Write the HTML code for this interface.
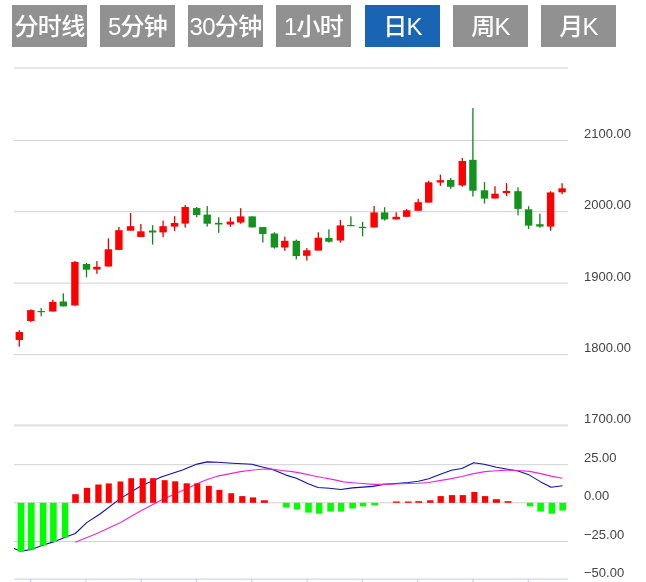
<!DOCTYPE html>
<html lang="zh"><head><meta charset="utf-8"><title>K线图</title>
<style>
html,body{margin:0;padding:0;background:#fff;}
body{width:646px;height:582px;position:relative;overflow:hidden;font-family:"Liberation Sans","Noto Sans CJK SC",sans-serif;}
.b{position:absolute;top:5px;width:75px;height:42px;line-height:44px;background:#919191;color:#fff;font-size:24px;font-weight:500;overflow:hidden;letter-spacing:-0.7px;text-align:center;white-space:nowrap;}
.b.on{background:#1a64b4;}
</style></head><body>
<div class="b" style="left:12px">分时线</div><div class="b" style="left:100px">5分钟</div><div class="b" style="left:188px">30分钟</div><div class="b" style="left:276px">1小时</div><div class="b on" style="left:365px">日K</div><div class="b" style="left:453px">周K</div><div class="b" style="left:541px">月K</div>
<svg width="646" height="582" viewBox="0 0 646 582" style="position:absolute;left:0;top:0">
<rect x="14" y="67.5" width="554" height="1" fill="#d2d2d2"/>
<rect x="14" y="140.0" width="554" height="1" fill="#d2d2d2"/>
<rect x="14" y="211.2" width="554" height="1" fill="#d2d2d2"/>
<rect x="14" y="282.6" width="554" height="1" fill="#d2d2d2"/>
<rect x="14" y="354.1" width="554" height="1" fill="#d2d2d2"/>
<rect x="14" y="424.3" width="554" height="2.2" fill="#e2e2e2"/>
<rect x="14" y="464.2" width="554" height="1" fill="#d2d2d2"/>
<rect x="14" y="502.3" width="554" height="1" fill="#d2d2d2"/>
<rect x="14" y="541.0" width="554" height="1" fill="#d2d2d2"/>
<rect x="14" y="578.6" width="554" height="1" fill="#c6cedc"/>
<rect x="30.0" y="579" width="1.2" height="3" fill="#c6cedc"/>
<rect x="85.3" y="579" width="1.2" height="3" fill="#c6cedc"/>
<rect x="140.6" y="579" width="1.2" height="3" fill="#c6cedc"/>
<rect x="195.9" y="579" width="1.2" height="3" fill="#c6cedc"/>
<rect x="251.2" y="579" width="1.2" height="3" fill="#c6cedc"/>
<rect x="306.5" y="579" width="1.2" height="3" fill="#c6cedc"/>
<rect x="361.8" y="579" width="1.2" height="3" fill="#c6cedc"/>
<rect x="417.1" y="579" width="1.2" height="3" fill="#c6cedc"/>
<rect x="472.4" y="579" width="1.2" height="3" fill="#c6cedc"/>
<rect x="527.7" y="579" width="1.2" height="3" fill="#c6cedc"/>
<rect x="18.65" y="330.1" width="1.3" height="16.5" fill="#e60000"/>
<rect x="15.60" y="332.0" width="7.4" height="8.0" fill="#ff0000"/>
<rect x="30.15" y="309.3" width="1.3" height="12.9" fill="#e60000"/>
<rect x="27.10" y="310.1" width="7.4" height="10.9" fill="#ff0000"/>
<rect x="40.55" y="308.1" width="1.3" height="8.1" fill="#12841a"/>
<rect x="37.50" y="311.0" width="7.4" height="1.2" fill="#14921e"/>
<rect x="52.15" y="299.7" width="1.3" height="11.8" fill="#e60000"/>
<rect x="49.10" y="301.9" width="7.4" height="9.6" fill="#ff0000"/>
<rect x="62.65" y="293.3" width="1.3" height="13.1" fill="#12841a"/>
<rect x="59.60" y="301.5" width="7.4" height="4.9" fill="#14921e"/>
<rect x="74.25" y="261.0" width="1.3" height="44.5" fill="#e60000"/>
<rect x="71.20" y="262.0" width="7.4" height="43.5" fill="#ff0000"/>
<rect x="85.85" y="262.9" width="1.3" height="14.5" fill="#12841a"/>
<rect x="82.80" y="264.0" width="7.4" height="5.7" fill="#14921e"/>
<rect x="96.25" y="261.1" width="1.3" height="12.7" fill="#e60000"/>
<rect x="93.20" y="266.8" width="7.4" height="2.7" fill="#ff0000"/>
<rect x="107.75" y="238.4" width="1.3" height="28.1" fill="#e60000"/>
<rect x="104.70" y="249.3" width="7.4" height="17.2" fill="#ff0000"/>
<rect x="118.25" y="227.0" width="1.3" height="22.9" fill="#e60000"/>
<rect x="115.20" y="230.2" width="7.4" height="19.7" fill="#ff0000"/>
<rect x="129.95" y="213.0" width="1.3" height="17.7" fill="#e60000"/>
<rect x="126.90" y="226.2" width="7.4" height="4.5" fill="#ff0000"/>
<rect x="140.25" y="224.0" width="1.3" height="13.0" fill="#e60000"/>
<rect x="137.20" y="231.3" width="7.4" height="5.7" fill="#ff0000"/>
<rect x="151.95" y="225.2" width="1.3" height="19.4" fill="#12841a"/>
<rect x="148.90" y="230.5" width="7.4" height="2.0" fill="#14921e"/>
<rect x="162.45" y="220.5" width="1.3" height="16.6" fill="#e60000"/>
<rect x="159.40" y="226.2" width="7.4" height="6.2" fill="#ff0000"/>
<rect x="173.95" y="216.1" width="1.3" height="15.0" fill="#e60000"/>
<rect x="170.90" y="223.0" width="7.4" height="3.6" fill="#ff0000"/>
<rect x="184.55" y="205.0" width="1.3" height="22.6" fill="#e60000"/>
<rect x="181.50" y="207.0" width="7.4" height="16.6" fill="#ff0000"/>
<rect x="196.05" y="207.0" width="1.3" height="10.3" fill="#12841a"/>
<rect x="193.00" y="208.1" width="7.4" height="6.9" fill="#14921e"/>
<rect x="206.55" y="206.1" width="1.3" height="20.5" fill="#12841a"/>
<rect x="203.50" y="214.6" width="7.4" height="9.1" fill="#14921e"/>
<rect x="218.05" y="217.3" width="1.3" height="15.5" fill="#12841a"/>
<rect x="215.00" y="222.8" width="7.4" height="1.7" fill="#14921e"/>
<rect x="229.75" y="217.3" width="1.3" height="9.5" fill="#e60000"/>
<rect x="226.70" y="221.6" width="7.4" height="2.9" fill="#ff0000"/>
<rect x="240.05" y="208.2" width="1.3" height="15.5" fill="#e60000"/>
<rect x="237.00" y="216.4" width="7.4" height="6.1" fill="#ff0000"/>
<rect x="251.55" y="216.4" width="1.3" height="11.0" fill="#12841a"/>
<rect x="248.50" y="216.4" width="7.4" height="11.0" fill="#14921e"/>
<rect x="262.15" y="227.1" width="1.3" height="15.5" fill="#12841a"/>
<rect x="259.10" y="227.1" width="7.4" height="6.9" fill="#14921e"/>
<rect x="273.75" y="232.3" width="1.3" height="16.3" fill="#12841a"/>
<rect x="270.70" y="233.5" width="7.4" height="14.0" fill="#14921e"/>
<rect x="284.15" y="236.5" width="1.3" height="14.3" fill="#e60000"/>
<rect x="281.10" y="240.8" width="7.4" height="6.7" fill="#ff0000"/>
<rect x="295.65" y="239.6" width="1.3" height="19.8" fill="#12841a"/>
<rect x="292.60" y="240.8" width="7.4" height="15.2" fill="#14921e"/>
<rect x="306.15" y="248.1" width="1.3" height="12.5" fill="#e60000"/>
<rect x="303.10" y="250.3" width="7.4" height="5.5" fill="#ff0000"/>
<rect x="317.65" y="232.3" width="1.3" height="18.3" fill="#e60000"/>
<rect x="314.60" y="237.7" width="7.4" height="12.9" fill="#ff0000"/>
<rect x="328.25" y="229.3" width="1.3" height="13.3" fill="#12841a"/>
<rect x="325.20" y="237.9" width="7.4" height="3.8" fill="#14921e"/>
<rect x="339.75" y="219.9" width="1.3" height="22.7" fill="#e60000"/>
<rect x="336.70" y="225.4" width="7.4" height="15.1" fill="#ff0000"/>
<rect x="350.25" y="216.4" width="1.3" height="9.8" fill="#12841a"/>
<rect x="347.20" y="225.0" width="7.4" height="1.2" fill="#14921e"/>
<rect x="361.95" y="221.8" width="1.3" height="14.5" fill="#12841a"/>
<rect x="358.90" y="226.8" width="7.4" height="1.3" fill="#14921e"/>
<rect x="373.45" y="206.0" width="1.3" height="21.5" fill="#e60000"/>
<rect x="370.40" y="212.4" width="7.4" height="15.1" fill="#ff0000"/>
<rect x="383.95" y="207.2" width="1.3" height="13.4" fill="#12841a"/>
<rect x="380.90" y="212.4" width="7.4" height="7.0" fill="#14921e"/>
<rect x="395.55" y="212.4" width="1.3" height="7.0" fill="#e60000"/>
<rect x="392.50" y="216.8" width="7.4" height="2.6" fill="#ff0000"/>
<rect x="406.05" y="209.1" width="1.3" height="7.7" fill="#e60000"/>
<rect x="403.00" y="210.3" width="7.4" height="6.5" fill="#ff0000"/>
<rect x="417.55" y="198.8" width="1.3" height="12.0" fill="#e60000"/>
<rect x="414.50" y="202.2" width="7.4" height="8.6" fill="#ff0000"/>
<rect x="428.05" y="180.7" width="1.3" height="21.9" fill="#e60000"/>
<rect x="425.00" y="182.3" width="7.4" height="20.3" fill="#ff0000"/>
<rect x="439.75" y="174.6" width="1.3" height="11.3" fill="#e60000"/>
<rect x="436.70" y="180.2" width="7.4" height="2.3" fill="#ff0000"/>
<rect x="450.05" y="178.1" width="1.3" height="10.8" fill="#12841a"/>
<rect x="447.00" y="180.0" width="7.4" height="6.8" fill="#14921e"/>
<rect x="461.65" y="157.9" width="1.3" height="28.9" fill="#e60000"/>
<rect x="458.60" y="161.0" width="7.4" height="24.4" fill="#ff0000"/>
<rect x="472.25" y="108.1" width="1.3" height="88.4" fill="#12841a"/>
<rect x="469.20" y="159.8" width="7.4" height="30.9" fill="#14921e"/>
<rect x="483.85" y="182.1" width="1.3" height="21.5" fill="#12841a"/>
<rect x="480.80" y="190.3" width="7.4" height="8.3" fill="#14921e"/>
<rect x="494.35" y="186.2" width="1.3" height="12.3" fill="#e60000"/>
<rect x="491.30" y="193.7" width="7.4" height="4.8" fill="#ff0000"/>
<rect x="505.85" y="183.1" width="1.3" height="13.0" fill="#e60000"/>
<rect x="502.80" y="191.0" width="7.4" height="2.1" fill="#ff0000"/>
<rect x="517.35" y="187.3" width="1.3" height="28.0" fill="#12841a"/>
<rect x="514.30" y="191.2" width="7.4" height="17.7" fill="#14921e"/>
<rect x="527.95" y="206.2" width="1.3" height="22.8" fill="#12841a"/>
<rect x="524.90" y="209.3" width="7.4" height="16.3" fill="#14921e"/>
<rect x="539.25" y="213.6" width="1.3" height="14.1" fill="#12841a"/>
<rect x="536.20" y="224.2" width="7.4" height="2.4" fill="#14921e"/>
<rect x="549.95" y="191.2" width="1.3" height="39.6" fill="#e60000"/>
<rect x="546.90" y="192.4" width="7.4" height="34.2" fill="#ff0000"/>
<rect x="561.45" y="183.2" width="1.3" height="11.0" fill="#e60000"/>
<rect x="558.40" y="188.3" width="7.4" height="4.0" fill="#ff0000"/>
<polyline points="14.0,548.5 20.8,551.2 31.5,549.4 42.5,545.3 53.5,541.9 64.5,537.5 75.3,533.5 86.7,522.6 100.0,514.0 120.6,498.4 141.3,485.8 161.9,476.7 182.5,469.9 197.0,464.1 207.3,461.9 217.6,462.3 232.4,463.3 252.0,464.3 261.3,466.8 273.7,469.9 286.0,475.1 296.4,478.2 308.7,484.0 318.0,487.5 329.4,488.3 340.7,489.5 352.4,487.9 373.0,486.4 383.3,484.4 395.7,483.5 408.1,482.5 418.4,481.3 428.7,478.8 441.1,474.0 451.4,470.3 461.8,468.5 473.7,462.7 484.0,464.3 496.4,467.2 507.8,469.3 518.1,471.0 529.4,475.1 540.8,481.9 551.1,487.3 562.5,485.8" fill="none" stroke="#1010b0" stroke-width="1.1" stroke-linejoin="round"/>
<polyline points="75.3,542.3 95.7,533.9 120.6,522.5 141.3,510.6 161.9,499.8 182.5,490.6 203.2,480.9 217.6,476.1 230.3,473.6 240.6,471.6 251.0,470.3 261.3,469.3 271.6,469.1 281.9,470.5 292.2,471.6 302.5,473.4 312.9,475.7 323.2,477.8 333.5,479.6 343.8,481.9 352.4,482.7 362.7,483.5 373.0,484.4 383.3,484.4 395.7,484.0 408.1,483.5 418.4,483.3 428.7,482.5 441.1,480.4 451.4,478.6 461.8,476.5 473.7,473.6 485.1,471.6 496.4,470.7 507.8,470.1 518.1,470.5 529.4,471.4 540.8,473.6 551.1,476.1 562.5,478.2" fill="none" stroke="#e828e0" stroke-width="1.1" stroke-linejoin="round"/>
<rect x="17.6" y="502.8" width="6.7" height="48.9" fill="#00ff00"/>
<rect x="27.9" y="502.8" width="6.7" height="46.9" fill="#00ff00"/>
<rect x="39.8" y="502.8" width="6.6" height="42.7" fill="#00ff00"/>
<rect x="50.1" y="502.8" width="6.6" height="39.2" fill="#00ff00"/>
<rect x="61.9" y="502.8" width="6.3" height="34.8" fill="#00ff00"/>
<rect x="72.2" y="494.2" width="6.6" height="8.6" fill="#ff0000"/>
<rect x="83.9" y="487.9" width="6.2" height="14.9" fill="#ff0000"/>
<rect x="95.3" y="484.5" width="6.3" height="18.3" fill="#ff0000"/>
<rect x="105.8" y="483.4" width="6.0" height="19.4" fill="#ff0000"/>
<rect x="117.5" y="481.5" width="5.8" height="21.3" fill="#ff0000"/>
<rect x="128.3" y="478.2" width="5.7" height="24.6" fill="#ff0000"/>
<rect x="139.6" y="478.2" width="6.2" height="24.6" fill="#ff0000"/>
<rect x="150.1" y="478.2" width="6.0" height="24.6" fill="#ff0000"/>
<rect x="161.7" y="480.2" width="6.0" height="22.6" fill="#ff0000"/>
<rect x="172.2" y="481.3" width="6.0" height="21.5" fill="#ff0000"/>
<rect x="183.6" y="483.3" width="6.2" height="19.5" fill="#ff0000"/>
<rect x="194.3" y="483.3" width="6.0" height="19.5" fill="#ff0000"/>
<rect x="205.9" y="485.8" width="5.9" height="17.0" fill="#ff0000"/>
<rect x="216.4" y="489.9" width="6.0" height="12.9" fill="#ff0000"/>
<rect x="228.3" y="493.2" width="5.7" height="9.6" fill="#ff0000"/>
<rect x="239.2" y="496.1" width="6.2" height="6.7" fill="#ff0000"/>
<rect x="249.9" y="497.4" width="6.2" height="5.4" fill="#ff0000"/>
<rect x="260.9" y="500.3" width="7.0" height="2.5" fill="#ff0000"/>
<rect x="282.9" y="502.8" width="6.8" height="4.7" fill="#00ff00"/>
<rect x="293.9" y="502.8" width="6.2" height="6.7" fill="#00ff00"/>
<rect x="305.2" y="502.8" width="6.6" height="9.8" fill="#00ff00"/>
<rect x="316.0" y="502.8" width="6.4" height="10.9" fill="#00ff00"/>
<rect x="327.3" y="502.8" width="6.6" height="8.8" fill="#00ff00"/>
<rect x="338.0" y="502.8" width="6.2" height="8.8" fill="#00ff00"/>
<rect x="349.3" y="502.8" width="6.6" height="5.7" fill="#00ff00"/>
<rect x="360.0" y="502.8" width="6.2" height="3.6" fill="#00ff00"/>
<rect x="371.4" y="502.8" width="6.8" height="2.6" fill="#00ff00"/>
<rect x="393.0" y="501.5" width="6.8" height="1.3" fill="#ff0000"/>
<rect x="405.0" y="501.5" width="6.6" height="1.3" fill="#ff0000"/>
<rect x="415.3" y="501.2" width="6.8" height="1.6" fill="#ff0000"/>
<rect x="427.1" y="500.3" width="6.4" height="2.5" fill="#ff0000"/>
<rect x="437.6" y="496.1" width="6.2" height="6.7" fill="#ff0000"/>
<rect x="449.0" y="495.1" width="6.1" height="7.7" fill="#ff0000"/>
<rect x="459.7" y="495.1" width="6.2" height="7.7" fill="#ff0000"/>
<rect x="471.3" y="492.0" width="6.1" height="10.8" fill="#ff0000"/>
<rect x="482.0" y="496.1" width="6.2" height="6.7" fill="#ff0000"/>
<rect x="492.9" y="499.2" width="7.0" height="3.6" fill="#ff0000"/>
<rect x="504.7" y="501.2" width="6.8" height="1.6" fill="#ff0000"/>
<rect x="527.0" y="502.8" width="6.2" height="3.6" fill="#00ff00"/>
<rect x="537.3" y="502.8" width="6.6" height="8.8" fill="#00ff00"/>
<rect x="548.6" y="502.8" width="6.6" height="10.9" fill="#00ff00"/>
<rect x="559.4" y="502.8" width="6.6" height="7.8" fill="#00ff00"/>
<text x="584" y="138" font-family="Liberation Sans, sans-serif" font-size="13" fill="#444">2100.00</text>
<text x="584" y="209" font-family="Liberation Sans, sans-serif" font-size="13" fill="#444">2000.00</text>
<text x="584" y="281" font-family="Liberation Sans, sans-serif" font-size="13" fill="#444">1900.00</text>
<text x="584" y="352" font-family="Liberation Sans, sans-serif" font-size="13" fill="#444">1800.00</text>
<text x="584" y="422.7" font-family="Liberation Sans, sans-serif" font-size="13" fill="#444">1700.00</text>
<text x="584" y="461.7" font-family="Liberation Sans, sans-serif" font-size="13" fill="#444">25.00</text>
<text x="584" y="499.7" font-family="Liberation Sans, sans-serif" font-size="13" fill="#444">0.00</text>
<text x="584" y="539" font-family="Liberation Sans, sans-serif" font-size="13" fill="#444">−25.00</text>
<text x="584" y="577" font-family="Liberation Sans, sans-serif" font-size="13" fill="#444">−50.00</text>
</svg>
</body></html>
